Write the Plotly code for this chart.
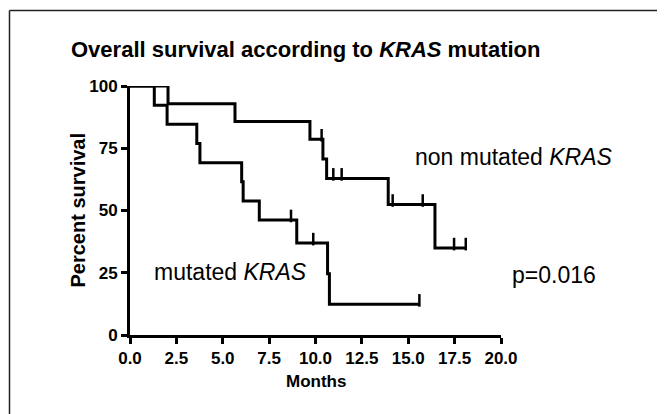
import plotly.graph_objects as go

# Kaplan-Meier steps
nonmut_time = [0, 2.05, 5.66, 9.70, 10.33, 10.40, 10.60, 10.96, 11.41, 13.92, 14.16, 15.78, 16.44, 17.47, 18.10]
nonmut_surv = [100, 92.9, 85.7, 78.6, 78.6, 70.7, 62.9, 62.9, 62.9, 52.4, 52.4, 52.4, 34.9, 34.9, 34.9]
nonmut_censor_time = [10.33, 10.96, 11.41, 14.16, 15.78, 17.47, 18.10]
nonmut_censor_surv = [78.6, 62.9, 62.9, 52.4, 52.4, 34.9, 34.9]

mut_time = [0, 1.31, 2.0, 3.60, 3.77, 6.02, 6.10, 6.97, 8.68, 8.99, 9.88, 10.65, 10.75, 15.60]
mut_surv = [100, 92.3, 84.6, 76.9, 69.2, 61.5, 53.8, 46.2, 46.2, 36.9, 36.9, 24.6, 12.3, 12.3]
mut_censor_time = [8.68, 9.88, 15.60]
mut_censor_surv = [46.2, 36.9, 12.3]

x_ticks = [0, 2.5, 5, 7.5, 10, 12.5, 15, 17.5, 20]
x_labels = ["0.0", "2.5", "5.0", "7.5", "10.0", "12.5", "15.0", "17.5", "20.0"]
y_ticks = [0, 25, 50, 75, 100]

FONT = "Liberation Sans, Arial, Helvetica, sans-serif"

fig = go.Figure()
for t, s in [(nonmut_time, nonmut_surv), (mut_time, mut_surv)]:
    fig.add_trace(go.Scatter(x=t, y=s, mode="lines", line=dict(color="black", width=3, shape="hv"),
                             showlegend=False, hoverinfo="skip", cliponaxis=False))
for t, s in [(nonmut_censor_time, nonmut_censor_surv), (mut_censor_time, mut_censor_surv)]:
    fig.add_trace(go.Scatter(x=t, y=s, mode="markers",
                             marker=dict(symbol="line-ns", size=9, angle=180, standoff=4,
                                         line=dict(color="black", width=2.5)),
                             showlegend=False, hoverinfo="skip", cliponaxis=False))

OFF = 8  # page body margin
W, H = 665 - OFF, 414 - OFF
PL, PR, PT, PB = 130, 501, 86, 335  # plot area in page pixels
L, T = PL - OFF, PT - OFF
R, B = W - (PR - OFF), H - (PB - OFF)
pw, ph = PR - PL, PB - PT

def px(xp):
    return (xp - PL) / pw

def py(yp):
    return (PB - yp) / ph

fig.update_layout(
    width=W, height=H,
    margin=dict(l=L, r=R, t=T, b=B, autoexpand=False),
    paper_bgcolor="white", plot_bgcolor="white",
    font=dict(family=FONT, color="black"),
    xaxis=dict(range=[0, 20], tickvals=x_ticks, ticktext=x_labels, showgrid=False, zeroline=False,
               showline=True, linecolor="black", linewidth=3, ticks="outside", ticklen=6,
               tickwidth=3, tickcolor="black",
               tickfont=dict(size=17, family=FONT, weight="bold", color="black")),
    yaxis=dict(range=[0, 100], tickvals=y_ticks, showgrid=False, zeroline=False,
               showline=True, linecolor="black", linewidth=3, ticks="outside", ticklen=6,
               tickwidth=3, tickcolor="black",
               tickfont=dict(size=17, family=FONT, weight="bold", color="black")),
    annotations=[
        dict(xref="paper", yref="paper", x=px(305), y=py(50), xanchor="center", yanchor="middle",
             text="<b>Overall survival according to <i>KRAS</i> mutation</b>", showarrow=False,
             font=dict(size=22)),
        dict(xref="paper", yref="paper", x=px(77), y=0.5, textangle=-90, xanchor="center", yanchor="middle",
             text="<b>Percent survival</b>", showarrow=False, font=dict(size=20)),
        dict(xref="paper", yref="paper", x=0.5, y=py(381), xanchor="center", yanchor="middle",
             text="<b>Months</b>", showarrow=False, font=dict(size=17)),
        dict(xref="paper", yref="paper", x=px(413), y=py(157), xanchor="left", yanchor="middle",
             text="non mutated <i>KRAS</i>", showarrow=False, font=dict(size=23)),
        dict(xref="paper", yref="paper", x=px(152), y=py(272), xanchor="left", yanchor="middle",
             text="mutated <i>KRAS</i>", showarrow=False, font=dict(size=23)),
        dict(xref="paper", yref="paper", x=px(510), y=py(275), xanchor="left", yanchor="middle",
             text="p=0.016", showarrow=False, font=dict(size=23)),
    ],
    shapes=[
        dict(type="line", xref="paper", yref="paper", x0=px(9.5), x1=px(680), y0=py(10.5), y1=py(10.5),
             line=dict(color="#222", width=1.5)),
        dict(type="line", xref="paper", yref="paper", x0=px(9.5), x1=px(9.5), y0=py(10.5), y1=py(430),
             line=dict(color="#222", width=1.5)),
    ],
)

fig.write_html("out.html")
